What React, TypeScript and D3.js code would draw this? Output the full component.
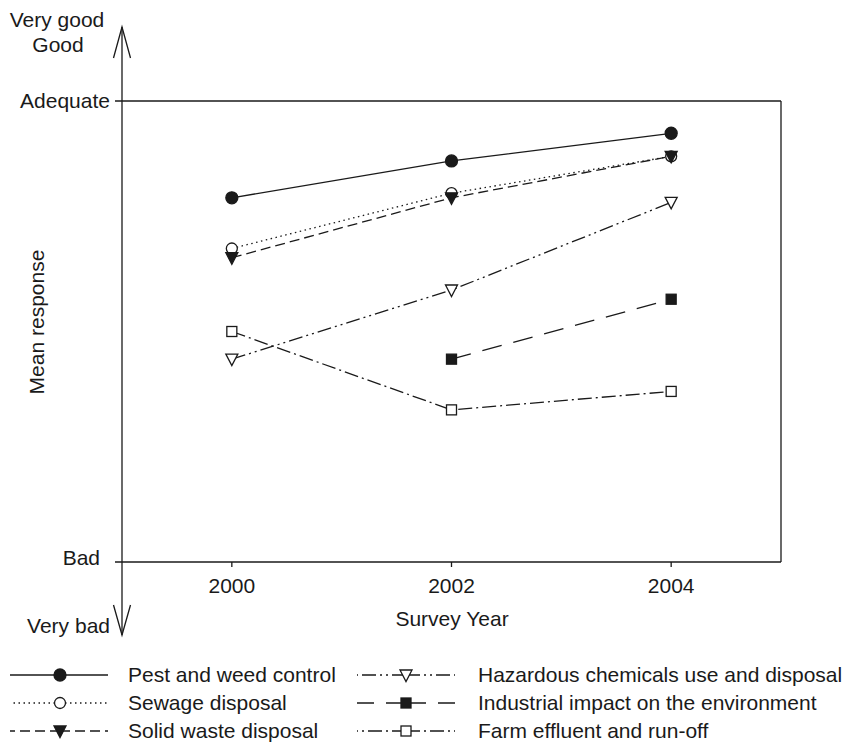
import React from "react";
import * as d3 from "d3";

const years = [2000, 2002, 2004];
const xTicks = ["2000", "2002", "2004"];

const pest = [2.79, 2.87, 2.93];
const sewage = [2.68, 2.8, 2.88];
const solid = [2.66, 2.79, 2.88];
const hazardous = [2.44, 2.59, 2.78];
const industrial: (number | null)[] = [null, 2.44, 2.57];
const farm = [2.5, 2.33, 2.37];

const seriesNames = [
  "Pest and weed control",
  "Sewage disposal",
  "Solid waste disposal",
  "Hazardous chemicals use and disposal",
  "Industrial impact on the environment",
  "Farm effluent and run-off",
];

type Marker = "circleFilled" | "circleOpen" | "triDownFilled" | "triDownOpen" | "squareFilled" | "squareOpen";

const seriesList: { name: string; values: (number | null)[]; dash: string; marker: Marker }[] = [
  { name: seriesNames[0], values: pest, dash: "none", marker: "circleFilled" },
  { name: seriesNames[1], values: sewage, dash: "1.5,3.5", marker: "circleOpen" },
  { name: seriesNames[2], values: solid, dash: "10,5", marker: "triDownFilled" },
  { name: seriesNames[3], values: hazardous, dash: "14,4,2,4,2,4", marker: "triDownOpen" },
  { name: seriesNames[4], values: industrial, dash: "20,12", marker: "squareFilled" },
  { name: seriesNames[5], values: farm, dash: "14,4,2,4", marker: "squareOpen" },
];

const W = 850;
const H = 745;
const FONT = "'Liberation Sans', Arial, Helvetica, sans-serif";
const FS = 21;
const INK = "#1a1a1a";

const x = d3.scaleLinear().domain([1999, 2005]).range([122, 781]);
const y = d3.scaleLinear().domain([2, 3]).range([562, 101]);

function MarkerShape({ type, cx, cy }: { type: Marker; cx: number; cy: number }) {
  const sw = 1.3;
  switch (type) {
    case "circleFilled":
      return <circle cx={cx} cy={cy} r={6} fill={INK} stroke={INK} strokeWidth={sw} />;
    case "circleOpen":
      return <circle cx={cx} cy={cy} r={5.5} fill="white" stroke={INK} strokeWidth={sw} />;
    case "triDownFilled":
    case "triDownOpen": {
      const w = 6, h = 5.5;
      const p = `M${cx - w},${cy - h + 0.5}L${cx + w},${cy - h + 0.5}L${cx},${cy + h + 1}Z`;
      return (
        <path d={p} fill={type === "triDownFilled" ? INK : "white"} stroke={INK} strokeWidth={sw} strokeLinejoin="miter" />
      );
    }
    case "squareFilled":
    case "squareOpen": {
      const s = 5;
      return (
        <rect x={cx - s} y={cy - s} width={2 * s} height={2 * s} fill={type === "squareFilled" ? INK : "white"} stroke={INK} strokeWidth={sw} />
      );
    }
  }
  return null;
}

export default function App() {
  const line = d3
    .line<[number, number | null]>()
    .defined((d) => d[1] !== null)
    .x((d) => x(d[0]))
    .y((d) => y(d[1] as number));

  const legendRows = [675, 703, 731];
  const legendCols = [
    { x0: 10, x1: 108, mx: 60, tx: 128 },
    { x0: 357, x1: 455, mx: 406, tx: 478 },
  ];

  const axisX = 122;
  const xLeft = 115;
  const xRight = x(2005);
  const yTop = y(3);
  const yBot = y(2);

  return (
    <svg width={W} height={H} style={{ position: "absolute", left: 0, top: 0, background: "white" }} fontFamily={FONT}>
      <rect x={0} y={0} width={W} height={H} fill="white" />
      {/* frame */}
      <line x1={xLeft} x2={xRight} y1={yTop} y2={yTop} stroke={INK} strokeWidth={1.3} />
      <line x1={xLeft} x2={xRight} y1={yBot} y2={yBot} stroke={INK} strokeWidth={1.3} />
      <line x1={xRight} x2={xRight} y1={yTop} y2={yBot} stroke={INK} strokeWidth={1.3} />
      {/* vertical arrow axis */}
      <line x1={axisX} x2={axisX} y1={27} y2={635} stroke={INK} strokeWidth={1.3} />
      <path d={`M${axisX - 8.5},58L${axisX},27L${axisX + 8.5},58`} fill="none" stroke={INK} strokeWidth={1.3} />
      <path d={`M${axisX - 8.5},605L${axisX},635L${axisX + 8.5},605`} fill="none" stroke={INK} strokeWidth={1.3} />

      {/* y labels */}
      <text x={57} y={27} textAnchor="middle" fontSize={FS} fill={INK}>Very good</text>
      <text x={58} y={52} textAnchor="middle" fontSize={FS} fill={INK}>Good</text>
      <text x={110} y={yTop + 7} textAnchor="end" fontSize={FS} fill={INK}>Adequate</text>
      <text x={100} y={yBot + 3} textAnchor="end" fontSize={FS} fill={INK}>Bad</text>
      <text x={110} y={633} textAnchor="end" fontSize={FS} fill={INK}>Very bad</text>

      {/* x ticks */}
      {years.map((yr, i) => (
        <g key={yr}>
          <line x1={x(yr)} x2={x(yr)} y1={yBot} y2={yBot + 5} stroke={INK} strokeWidth={1.3} />
          <text x={x(yr)} y={593} textAnchor="middle" fontSize={FS} fill={INK}>{xTicks[i]}</text>
        </g>
      ))}
      <text x={452} y={626} textAnchor="middle" fontSize={FS} fill={INK}>Survey Year</text>
      <text transform={`translate(44,322) rotate(-90)`} textAnchor="middle" fontSize={FS} fill={INK}>Mean response</text>

      {/* series lines */}
      {seriesList.map((s) => (
        <path
          key={s.name + "l"}
          d={line(years.map((yr, i) => [yr, s.values[i]] as [number, number | null])) || ""}
          fill="none"
          stroke={INK}
          strokeWidth={1.3}
          strokeDasharray={s.dash}
        />
      ))}
      {/* markers */}
      {seriesList.map((s) => (
        <g key={s.name + "m"}>
          {years.map((yr, i) =>
            s.values[i] === null ? null : (
              <MarkerShape key={yr} type={s.marker} cx={x(yr)} cy={y(s.values[i] as number)} />
            )
          )}
        </g>
      ))}

      {/* legend */}
      {seriesList.map((s, i) => {
        const col = legendCols[Math.floor(i / 3)];
        const ry = legendRows[i % 3];
        return (
          <g key={s.name + "g"}>
            <line x1={col.mx} x2={col.x0} y1={ry} y2={ry} stroke={INK} strokeWidth={1.3} strokeDasharray={s.dash} />
            <line x1={col.mx} x2={col.x1} y1={ry} y2={ry} stroke={INK} strokeWidth={1.3} strokeDasharray={s.dash} />
            <MarkerShape type={s.marker} cx={col.mx} cy={ry} />
            <text x={col.tx} y={ry + 7} fontSize={FS} fill={INK}>{s.name}</text>
          </g>
        );
      })}
    </svg>
  );
}
